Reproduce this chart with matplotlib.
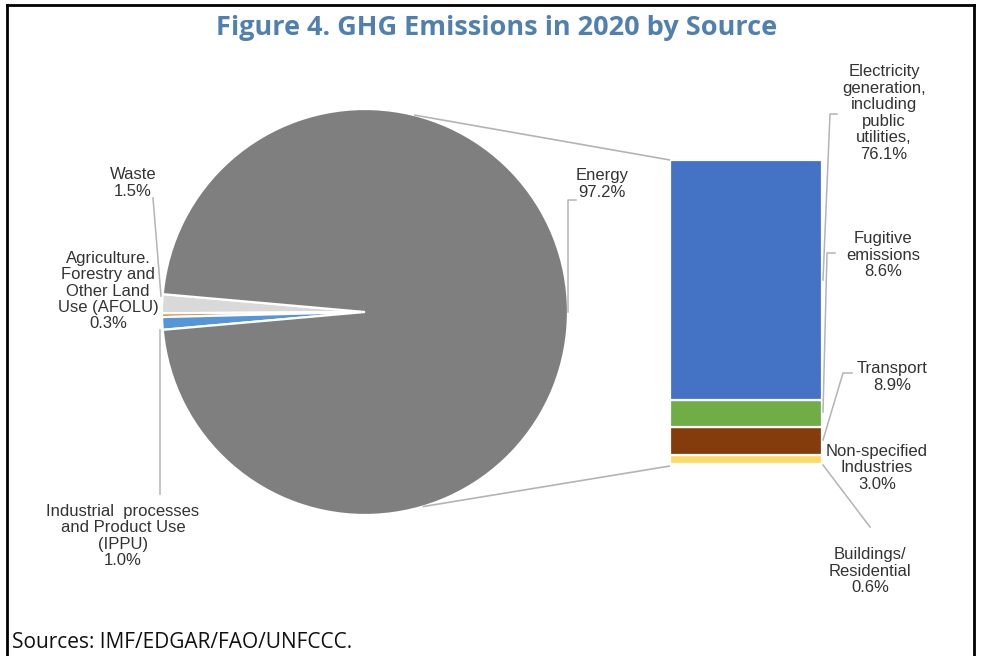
import numpy as np
import matplotlib.pyplot as plt
from matplotlib.lines import Line2D

# GHG emissions 2020, shares by source (%)
pie_labels = ['Waste', 'Agriculture.\nForestry and\nOther Land\nUse (AFOLU)',
              'Industrial  processes\nand Product Use\n(IPPU)', 'Energy']
pie_values = [1.5, 0.3, 1.0, 97.2]
pie_colors = ['#d9d9d9', '#ed7d31', '#5596d8', '#7f7f7f']

# breakdown of the energy slice
bar_labels = ['Buildings/\nResidential', 'Non-specified\nIndustries', 'Transport',
              'Fugitive\nemissions', 'Electricity\ngeneration,\nincluding\npublic\nutilities,']
bar_values = [0.6, 3.0, 8.9, 8.6, 76.1]
bar_colors = ['#9dc3e6', '#ffd966', '#843c0c', '#70ad47', '#4472c4']

W, H = 982, 656
fig = plt.figure(figsize=(W / 100, H / 100), dpi=100)
ax = fig.add_axes([0, 0, 1, 1])

def py(y):
    # layout is measured from the top edge
    return H - y

txt_color = '#333333'
lead_color = '#b4b4b4'
lab_font = 'Liberation Sans'

# pie, small slices centred on the left side
cx, cy, r = 365, 312, 203
small_share = sum(pie_values[:3]) / sum(pie_values)
start = 180 - small_share * 360 / 2
ax.pie(pie_values, colors=pie_colors, startangle=start, center=(cx, py(cy)), radius=r,
       wedgeprops=dict(edgecolor='white', linewidth=1.6))

# stacked bar for the energy slice
bar_x, bar_w = 746, 152
bar_base, bar_h = 466, 306
scale = bar_h / sum(bar_values)
bottoms = np.concatenate([[0], np.cumsum(bar_values)[:-1]])
ax.bar(bar_x, np.array(bar_values) * scale, bottom=py(bar_base) + bottoms * scale,
       width=bar_w, color=bar_colors, edgecolor='white', linewidth=1.6)

# connector lines pie -> bar
bar_top = py(bar_base) + sum(bar_values) * scale
for ang, yb in [(76, bar_top), (-73.5, py(bar_base))]:
    a = np.radians(ang)
    ax.plot([cx + r * np.cos(a), bar_x - bar_w / 2], [py(cy) + r * np.sin(a), yb],
            color=lead_color, lw=1.2, solid_capstyle='butt')

def leader(pts):
    xs = [p[0] for p in pts]
    ys = [py(p[1]) for p in pts]
    ax.plot(xs, ys, color=lead_color, lw=1.1)

def label(x, y, s, v):
    ax.text(x, py(y), f'{s}\n{v:.1f}%', ha='center', va='center', fontsize=12,
            family=lab_font, color=txt_color, linespacing=1.12)

# pie labels
label(133, 183, pie_labels[0], pie_values[0])
leader([(153, 198), (161, 296)])
label(108, 291, pie_labels[1], pie_values[1])
label(123, 536, pie_labels[2], pie_values[2])
leader([(160, 330), (160, 494)])
label(602, 184, pie_labels[3], pie_values[3])
leader([(576, 200), (568, 200), (568, 312)])

# bar labels
label(884, 113, bar_labels[4], bar_values[4])
leader([(837, 114), (830, 114), (823, 280)])
label(883, 255, bar_labels[3], bar_values[3])
leader([(835, 253), (827, 253), (823, 412)])
label(892, 377, bar_labels[2], bar_values[2])
leader([(852, 373), (843, 373), (823, 440)])
label(877, 468, bar_labels[1], bar_values[1])
label(870, 571, bar_labels[0], bar_values[0])
leader([(823, 465), (870, 527)])

# title and source
ax.text(497, py(28), 'Figure 4. GHG Emissions in 2020 by Source', ha='center', va='center',
        fontsize=19.5, fontweight='bold', family='Open Sans', color='#4f80b0')
ax.text(12, py(642), 'Sources: IMF/EDGAR/FAO/UNFCCC.', ha='left', va='center',
        fontsize=15, family='Open Sans', color='#111111')

# frame
for xs, ys in [([7, 974], [5, 5]), ([7, 7], [5, 656]), ([974, 974], [5, 656])]:
    ax.add_line(Line2D(xs, [py(v) for v in ys], color='black', lw=2))

ax.set_xlim(0, W)
ax.set_ylim(0, H)
ax.set_aspect('auto')
ax.axis('off')
fig.savefig('out.png', dpi=100)
